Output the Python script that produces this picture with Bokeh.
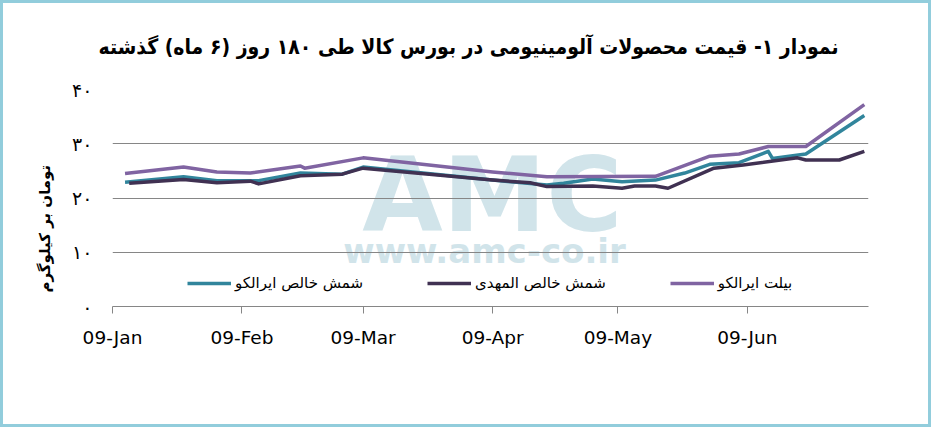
import pandas as pd
from bokeh.plotting import figure
from bokeh.models import (ColumnDataSource, Range1d, FixedTicker, DatetimeTickFormatter,
                          Label, Legend, LegendItem, Title)
from bokeh.embed import file_html
from bokeh.resources import INLINE

# ---------------- data ----------------
title_text = "نمودار ۱- قیمت محصولات آلومینیومی در بورس کالا طی ۱۸۰ روز (۶ ماه) گذشته"
y_title = "تومان بر کیلوگرم"
series_names = ["شمش خالص ایرالکو", "شمش خالص المهدی", "بیلت ایرالکو"]
series_colors = ["#31859C", "#403152", "#8064A2"]

iralco_ingot_dates = ["2012-01-12", "2012-01-26", "2012-02-03", "2012-02-13", "2012-02-23",
                      "2012-03-04", "2012-03-09", "2012-04-09", "2012-04-22", "2012-04-26",
                      "2012-05-03", "2012-05-10", "2012-05-18", "2012-05-25", "2012-05-31",
                      "2012-06-07", "2012-06-14", "2012-06-15", "2012-06-23", "2012-07-07"]
iralco_ingot_values = [22.9, 23.9, 23.2, 23.2, 24.6,
                       24.4, 25.7, 23.3, 22.4, 22.7,
                       23.5, 23.0, 23.3, 24.6, 26.2,
                       26.5, 28.6, 27.3, 28.1, 35.2]

almahdi_ingot_dates = ["2012-01-13", "2012-01-26", "2012-02-03", "2012-02-11", "2012-02-13",
                       "2012-02-23", "2012-03-04", "2012-03-09", "2012-04-09", "2012-04-18",
                       "2012-04-22", "2012-05-03", "2012-05-10", "2012-05-13", "2012-05-18",
                       "2012-05-21", "2012-06-01", "2012-06-08", "2012-06-21", "2012-06-23",
                       "2012-07-01", "2012-07-07"]
almahdi_ingot_values = [22.7, 23.4, 22.8, 23.1, 22.6,
                        24.1, 24.4, 25.5, 23.3, 22.8,
                        22.1, 22.2, 21.8, 22.2, 22.2,
                        21.8, 25.5, 26.1, 27.4, 27.0,
                        27.0, 28.6]

iralco_billet_dates = ["2012-01-12", "2012-01-26", "2012-02-03", "2012-02-11", "2012-02-23",
                       "2012-02-24", "2012-03-09", "2012-04-09", "2012-04-22", "2012-05-18",
                       "2012-05-31", "2012-06-07", "2012-06-14", "2012-06-23", "2012-07-07"]
iralco_billet_values = [24.5, 25.7, 24.8, 24.6, 25.9,
                        25.5, 27.4, 24.8, 23.9, 24.0,
                        27.7, 28.1, 29.5, 29.5, 37.2]

y_ticks = [0, 10, 20, 30, 40]
y_tick_labels = ["۰", "۱۰", "۲۰", "۳۰", "۴۰"]
x_tick_dates = ["2012-01-09", "2012-02-09", "2012-03-09", "2012-04-09", "2012-05-09", "2012-06-09"]
x_start, x_end = "2012-01-09", "2012-07-08"
watermark_big = "AMC"
watermark_small = "www.amc-co.ir"


def to_ms(dates):
    return [int(v) for v in pd.to_datetime(dates).values.astype("datetime64[ms]").astype("int64")]


FONT = "DejaVu Sans"
TITLE_FONT = "'DejaVu Sans Condensed', 'DejaVu Sans'"
W, H = 931, 427
FL, FR, FT, FB = 112, 868, 89, 306   # frame edges (px from top-left)

p = figure(width=W, height=H, x_axis_type="datetime",
           x_range=Range1d(to_ms([x_start])[0], to_ms([x_end])[0]),
           y_range=Range1d(0, 40),
           output_backend="svg", toolbar_location=None,
           min_border_left=FL, min_border_right=W - FR, min_border_top=FT, min_border_bottom=H - FB)
p.styles = {"box-shadow": "inset 0 0 0 3px #92CDDC"}
p.border_fill_color = None
p.background_fill_color = None
p.outline_line_color = None

# title
p.title.text = title_text
p.title.align = "left"
p.title.offset = -14
p.title.standoff = 62
p.title.text_font = TITLE_FONT
p.title.text_font_style = "bold"
p.title.text_font_size = "21px"
p.title.text_color = "#000000"

# y title on the left
p.add_layout(Title(text=y_title, align="left", offset=14, standoff=31, text_font=FONT,
                   text_font_style="bold", text_font_size="15px", text_color="#000000"), "left")

# grid
p.xgrid.visible = False
p.ygrid.ticker = FixedTicker(ticks=y_ticks)
p.ygrid.grid_line_color = "#868686"
p.ygrid.grid_line_width = 1

# y axis
p.yaxis.ticker = FixedTicker(ticks=y_ticks)
p.yaxis.major_label_overrides = {t: l for t, l in zip(y_ticks, y_tick_labels)}
p.yaxis.axis_line_color = None
p.yaxis.major_tick_line_color = None
p.yaxis.minor_tick_line_color = None
p.yaxis.major_label_standoff = 14
p.yaxis.major_label_text_font = FONT
p.yaxis.major_label_text_font_size = "19px"
p.yaxis.major_label_text_color = "#000000"

# x axis
p.xaxis.ticker = FixedTicker(ticks=to_ms(x_tick_dates))
fmt = "%d-%b"
p.xaxis.formatter = DatetimeTickFormatter(days=fmt, months=fmt, years=fmt, hours=fmt,
                                          minutes=fmt, seconds=fmt, milliseconds=fmt,
                                          microseconds=fmt, hourmin=fmt, minsec=fmt)
p.xaxis.axis_line_color = "#868686"
p.xaxis.major_tick_line_color = "#868686"
p.xaxis.minor_tick_line_color = None
p.xaxis.major_tick_out = 7
p.xaxis.major_tick_in = 0
p.xaxis.major_label_standoff = 13
p.xaxis.major_label_text_font = FONT
p.xaxis.major_label_text_font_size = "18.5px"
p.xaxis.major_label_text_color = "#000000"

# watermark
p.add_layout(Label(x=380, y=112, x_units="screen", y_units="screen", text=watermark_big,
                   text_font=FONT, text_font_style="bold", text_font_size="104px",
                   text_color="#D1E4EA", text_align="center", text_baseline="middle",
                   level="image"))
p.add_layout(Label(x=372, y=56, x_units="screen", y_units="screen", text=watermark_small,
                   text_font=FONT, text_font_style="bold", text_font_size="34px",
                   text_color="#D1E4EA", text_align="center", text_baseline="middle",
                   level="image"))

# lines
renderers = []
for dates, vals, color in [(iralco_ingot_dates, iralco_ingot_values, series_colors[0]),
                           (almahdi_ingot_dates, almahdi_ingot_values, series_colors[1]),
                           (iralco_billet_dates, iralco_billet_values, series_colors[2])]:
    src = ColumnDataSource(data=dict(x=to_ms(dates), y=vals))
    r = p.line("x", "y", source=src, line_color=color, line_width=3.5, line_join="round")
    renderers.append(r)

legend = Legend(items=[LegendItem(label=n, renderers=[r]) for n, r in zip(series_names, renderers)],
                orientation="horizontal", location=(75, 14),
                glyph_width=44, glyph_height=18, label_standoff=4, spacing=64,
                padding=0, margin=0, border_line_color=None, background_fill_alpha=0,
                label_text_font=FONT, label_text_font_size="15px", label_text_color="#000000")
p.add_layout(legend)

open("out.html", "w").write(file_html(p, INLINE))
